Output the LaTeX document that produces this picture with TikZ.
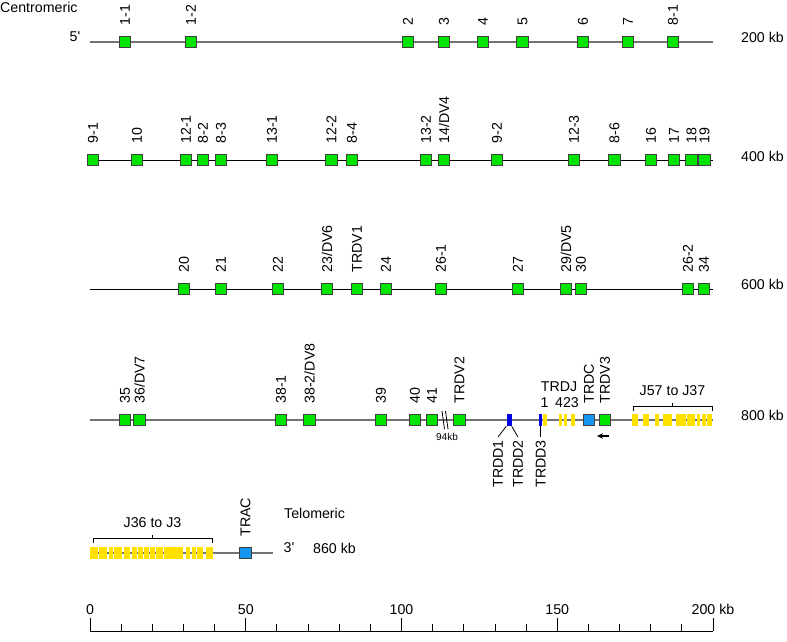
\documentclass[tikz,border=0pt]{standalone}
\usepackage{fontspec}
\setmainfont{Liberation Sans}
\usetikzlibrary{arrows.meta,calc,positioning}

\definecolor{vgreen}{RGB}{0,228,0}
\definecolor{cblue}{RGB}{20,150,240}
\definecolor{dblue}{RGB}{0,0,225}
\definecolor{jyellow}{RGB}{255,225,0}
\definecolor{chrgray}{RGB}{115,115,115}
\newcommand{\lblsize}{\fontsize{14.2}{16}\selectfont}

\tikzset{
	chrline/.style={draw=chrgray, line width=1.4pt},
	chrthin/.style={draw=black, line width=0.8pt},
	vseg/.style={draw=black!75, line width=0.9pt, fill=vgreen, minimum size=11.5pt, inner sep=0pt},
	cseg/.style={vseg, fill=cblue},
	dseg/.style={fill=dblue, inner sep=0pt, minimum height=12pt, minimum width=#1},
	vlbl/.style={rotate=90, anchor=west, inner sep=0pt, font=\lblsize},
	dlbl/.style={rotate=90, anchor=east, inner sep=3pt, font=\lblsize},
	txt/.style={inner sep=0pt, font=\lblsize},
	brk/.style={draw=black, line width=0.8pt},
}

\begin{document}
\begin{tikzpicture}[x=1pt, y=-1pt]
	\useasboundingbox (0,0) rectangle (787,642);

	\node[txt, anchor=west] (cen) at (0,7) {Centromeric};
	\node[txt] (fivep) at (75,37) {5\textquotesingle};

	\coordinate (r1s) at (90,42);
	\coordinate (r1e) at (713,42);
	\draw[chrline] (r1s) -- (r1e);
	\node[txt, anchor=west] (kb200) at (741,37) {200 kb};
	\foreach \x/\t [count=\i] in {125/1-1, 191/1-2, 408/2, 444/3, 483/4, 522.5/5, 583/6, 628/7, 673/8-1}{
		\node[vseg] (a\i) at (\x,42) {};
		\node[above=10pt of a\i, vlbl] {\t};
	}

	\coordinate (r2s) at (90,160);
	\coordinate (r2e) at (713,160);
	\draw[chrthin] (r2s) -- (r2e);
	\node[txt, anchor=west] (kb400) at (741,156) {400 kb};
	\foreach \x/\t [count=\i] in {93/9-1, 137/10, 186/12-1, 203/8-2, 221/8-3, 272/13-1, 331.5/12-2, 352/8-4, 426/13-2, 444/{14/DV4}, 497/9-2, 574/12-3, 614.5/8-6, 651/16, 674/17, 691.5/18, 704.5/19}{
		\node[vseg] (b\i) at (\x,160) {};
		\node[above=10pt of b\i, vlbl] {\t};
	}

	\coordinate (r3s) at (90,289);
	\coordinate (r3e) at (713,289);
	\draw[chrthin] (r3s) -- (r3e);
	\node[txt, anchor=west] (kb600) at (741,284) {600 kb};
	\foreach \x/\t [count=\i] in {184/20, 221/21, 278/22, 327/{23/DV6}, 357/TRDV1, 386/24, 441/26-1, 518/27, 566/{29/DV5}, 581/30, 688/26-2, 704/34}{
		\node[vseg] (c\i) at (\x,289) {};
		\node[above=10pt of c\i, vlbl] {\t};
	}

	\coordinate (r4s) at (90,420);
	\coordinate (r4e) at (713,420);
	\draw[chrline] (r4s) -- (r4e);
	\node[txt, anchor=west] (kb800) at (741,415) {800 kb};
	\foreach \a/\b in {543/546.5, 558.5/562, 563.5/567, 570.5/574.5, 632/638, 643/649, 655/659, 663/672, 676/686, 687/695, 697/700, 702/706, 707/712}
		\fill[jyellow] (\a,414) rectangle (\b,426);
	\foreach \x/\t [count=\i] in {125/35, 139.5/{36/DV7}, 281/38-1, 309.5/{38-2/DV8}, 381/39, 415/40, 432/41, 459.5/TRDV2, 605/TRDV3}{
		\node[vseg] (d\i) at (\x,420) {};
		\node[above=10pt of d\i, vlbl] {\t};
	}
	\node[cseg] (trdc) at (589,420) {};
	\node[above=10pt of trdc, vlbl] {TRDC};

	\draw[brk] (442,411) -- (444.5,429);
	\draw[brk] (445.5,411) -- (448,429);
	\node[inner sep=0pt, font=\fontsize{10}{12}\selectfont] (gap) at (447,437) {94kb};

	\node[dseg=5pt] (dd12) at (509,420) {};
	\node[dseg=3pt] (dd3) at (540.8,420) {};
	\node[dlbl] (trdd1) at (498,437) {TRDD1};
	\node[dlbl] (trdd2) at (518,437) {TRDD2};
	\node[dlbl] (trdd3) at (540.8,437) {TRDD3};
	\draw[brk] (dd12.south west) -- (trdd1.east);
	\draw[brk] (dd12.south east) -- (trdd2.east);
	\draw[brk] (dd3.south) -- (trdd3.east);

	\node[txt] (trdj) at (559,387) {TRDJ};
	\node[txt] (j1) at (544.5,403) {1};
	\node[txt] (j423) at (567,403) {423};

	\coordinate (dirS) at (609,436);
	\coordinate (dirE) at (597,436);
	\draw[-{Stealth[length=6pt,width=5.5pt]}, line width=1.1pt] (dirS) -- (dirE);

	\coordinate (jaL) at (633,406);
	\coordinate (jaR) at (712,406);
	\draw[brk] ($(jaL)+(0,5)$) -- (jaL) -- (jaR) -- ++(0,5);
	\draw[brk] ($(jaL)!0.5!(jaR)$) -- ++(0,-3) node[above=7pt, txt] (jalbl) {J57 to J37};

	\coordinate (r5s) at (90,553);
	\coordinate (r5e) at (273,553);
	\draw[chrline] (r5s) -- (r5e);
	\foreach \a/\b in {90/98, 99/107, 108.5/113, 114/122, 123.5/130, 131.5/137, 138/143, 144/149, 150/155, 156/163, 164/183, 185.5/190, 191.5/196, 197/203, 206/213}
		\fill[jyellow] (\a,547) rectangle (\b,559);
	\node[cseg] (trac) at (245.5,553) {};
	\node[above=10pt of trac, vlbl] {TRAC};
	\node[txt, anchor=west] (telo) at (284,513) {Telomeric};
	\node[txt] (threep) at (289,548) {3\textquotesingle};
	\node[txt, anchor=west] (kb860) at (313,548) {860 kb};

	\coordinate (jbL) at (93,538);
	\coordinate (jbR) at (212,538);
	\draw[brk] ($(jbL)+(0,5)$) -- (jbL) -- (jbR) -- ++(0,5);
	\draw[brk] ($(jbL)!0.5!(jbR)$) -- ++(0,-3) node[above=7pt, txt] (jblbl) {J36 to J3};

	\coordinate (ax0) at (90,631);
	\coordinate (ax1) at (713,631);
	\draw[chrthin] (ax0) -- (ax1);
	\foreach \k in {0,...,20}
		\draw[chrthin] ($(ax0)!\k/20!(ax1)$) -- ++(0,-7);
	\foreach \k/\t in {0/0, 5/50, 10/100, 15/150, 20/200 kb}
		\draw[chrthin] ($(ax0)!\k/20!(ax1)$) -- ++(0,-13) node[above=3pt, txt] {\t};
\end{tikzpicture}
\end{document}
